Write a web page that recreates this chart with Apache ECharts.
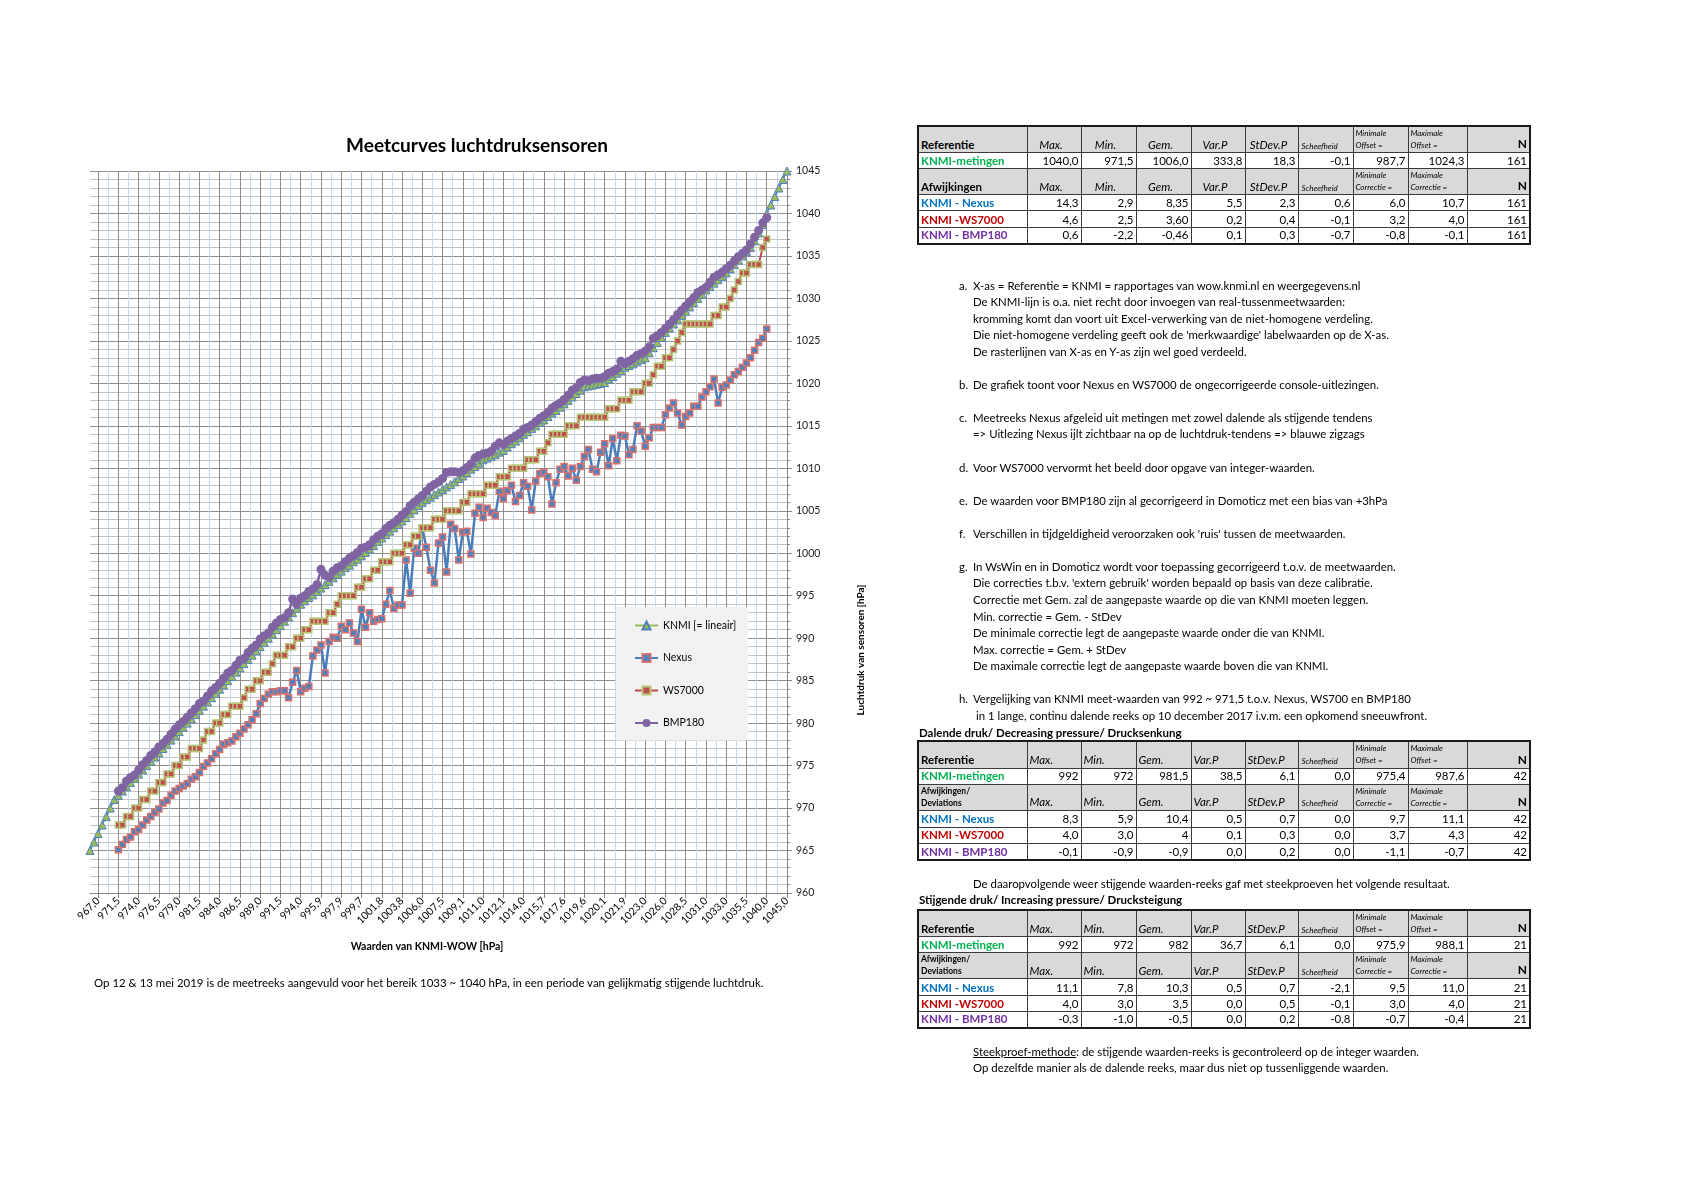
<!DOCTYPE html>
<html><head><meta charset="utf-8">
<script src="https://cdn.jsdelivr.net/npm/echarts/dist/echarts.min.js"></script>
<style>
html,body{margin:0;padding:0;background:#fff;}
#chart{position:absolute;left:0;top:0;width:1684px;height:1190px;}
.txt{position:absolute;font-family:Lato,'Noto Sans',sans-serif;color:#000;white-space:pre;}
table.t{position:absolute;left:917px;border-collapse:collapse;table-layout:fixed;font-family:Lato,sans-serif;font-size:11px;border:2px solid #1a1a1a;}
table.t td{border:1px solid #3a3a3a;padding:0 2px 1px 2px;overflow:hidden;white-space:nowrap;text-align:right;vertical-align:bottom;line-height:1.15;}
table.t tr.h td{background:#d9d9d9;}
table.t td.lab{text-align:left;font-weight:bold;font-size:11.5px;}
table.t td.lab2{text-align:left;font-weight:bold;font-size:8.5px;line-height:12px;}
table.t td.hc{font-style:italic;font-size:11.5px;}
table.t td.sk{font-style:italic;font-size:8px;text-align:left;padding-left:3px;}
table.t td.mm{font-style:italic;font-size:8px;text-align:left;line-height:12px;vertical-align:top;}
table.t td.n{font-weight:bold;font-size:12px;}
table.t td.num{font-size:11.5px;}
</style>
</head><body>
<div id="chart"></div>
<div id="side"></div>
<script>
// ---------- chart data ----------
const tickLabels = ['967,0','971,5','974,0','976,5','979,0','981,5','984,0','986,5','989,0','991,5','994,0','995,9','997,9','999,7','1001,8','1003,8','1006,0','1007,5','1009,1','1011,0','1012,1','1014,0','1015,7','1017,6','1019,6','1020,1','1021,9','1023,0','1026,0','1028,5','1031,0','1033,0','1035,5','1040,0','1045,0'];

const knmi = [965,966,967,968,969,970,971,
 971.5,972,972.5,973,973.5,974,974.5,975,975.5,976,976.5,977,977.5,978,978.5,979,979.5,980,980.5,981,981.5,982,982.5,983,983.5,984,984.5,985,985.5,986,986.5,987,987.5,988,988.5,989,989.5,990,990.5,991,991.5,992,
 992.5,993,993.5,994,
 994.4,994.8,995.1,995.5,995.9, 996.3,996.7,997.1,997.5,997.9, 998.3,998.6,999.0,999.3,999.7,
 1000.1,1000.5,1000.9,1001.4,1001.8, 1002.2,1002.6,1003.0,1003.4,1003.8, 1004.2,1004.7,1005.1,1005.6,1006.0,
 1006.3,1006.6,1006.9,1007.2,1007.5, 1007.8,1008.1,1008.4,1008.8,1009.1, 1009.5,1009.9,1010.2,1010.6,1011.0,
 1011.2,1011.4,1011.6,1011.9,1012.1, 1012.5,1012.9,1013.2,1013.6,1014.0, 1014.3,1014.7,1015.0,1015.4,1015.7,
 1016.1,1016.5,1016.8,1017.2,1017.6, 1018.0,1018.4,1018.8,1019.2,1019.6, 1019.7,1019.8,1019.9,1020.0,1020.1,
 1020.5,1020.8,1021.2,1021.5,1021.9, 1022.1,1022.3,1022.6,1022.8,1023.0, 1023.6,1024.2,1024.8,1025.4,1026.0,
 1026.5,1027.0,1027.5,1028.0,1028.5, 1029.0,1029.5,1030.0,1030.5,1031.0, 1031.4,1031.8,1032.2,1032.6,1033.0,
 1033.5,1034.0,1034.5,1035.0,1035.5, 1036.0,1036.8,1037.7,1038.7,1040.0, 1041,1042,1043,1044,1045];

// sensor series: 161 readings, from category 971,5 up to 1040,0
const nexus = [965.1,965.7,966.3,966.6,967.2,967.5,968.0,968.6,969.0,969.5,969.9,970.6,970.9,971.5,972.0,972.3,972.6,972.9,973.4,973.7,974.2,974.9,975.3,975.8,976.4,976.9,977.5,977.7,977.9,978.4,978.8,979.3,979.8,980.4,981.1,982.3,982.9,983.4,983.7,983.7,983.8,983.8,
 983.0,984.8,986.2,983.7,984.1,984.3,987.9,988.6,989.2,985.9,989.6,990.1,990.0,991.4,991.0,991.8,990.6,989.6,993.4,991.3,993.0,992.0,992.2,992.3,994.0,995.6,993.5,993.9,993.9,999.2,995.3,1000.6,1000.0,1003.0,1000.7,998.0,996.5,1001.2,1001.9,997.8,1003.4,1002.9,999.2,1002.5,1002.6,999.9,1004.7,1005.4,1004.2,1005.3,1004.8,1004.4,1007.3,
 1006.4,1007.4,1008.0,1006.1,1006.8,1008.3,1007.9,1005.1,1008.5,1009.4,1009.5,1009.0,1005.8,1008.3,1009.9,1010.2,1009.1,1010.0,1008.6,1010.2,1011.4,1012.2,1009.9,1009.6,1011.9,1012.9,1010.3,1013.5,1010.9,1013.9,1013.8,1011.6,1012.2,1015.0,1014.4,1012.6,1013.6,1014.8,1014.8,1014.8,
 1016.3,1017.1,1017.7,1016.5,1015.1,1016.1,1016.5,1017.3,1017.3,1018.4,1019.0,1019.6,1020.5,1017.7,1019.5,1019.8,1020.4,1021.0,1021.4,1021.9,1022.4,1023.0,1023.9,1024.8,1025.3,1026.4];

const ws7000 = [968,968,969,969,970,970,971,971,972,972,973,973,974,974,975,975,976,976,977,977,977,978,979,979,980,980,981,981,982,982,982,983,984,984,985,985,986,986,987,988,988,988,
 989,989,990,990,991,991,992,992,992,992,993,993,994,995,995,995,995,996,996,997,997,998,998,999,999,999,1000,1000,1000,1001,1001,1002,1002,1003,1003,1003,1004,1004,1004,1005,1005,1005,1005,1006,1006,1007,1007,1007,1007,1008,1008,1008,1009,
 1009,1009,1010,1010,1010,1010,1011,1011,1011,1012,1012,1013,1014,1014,1014,1014,1015,1015,1015,1016,1016,1016,1016,1016,1016,1016,1017,1017,1017,1018,1018,1018,1019,1019,1019,1020,1020,1021,1022,1022,
 1023,1023,1024,1025,1026,1027,1027,1027,1027,1027,1027,1027,1028,1028,1029,1029,1030,1031,1032,1033,1033,1034,1034,1034,1036,1037];

const bmp180 = [972.0,972.4,973.2,973.6,973.9,974.5,975.1,975.6,976.2,976.6,977.2,977.6,978.1,978.7,979.3,979.8,980.2,980.7,981.2,981.7,982.3,982.6,983.2,983.8,984.2,984.7,985.3,985.9,986.2,986.8,987.4,987.6,988.3,988.8,989.2,989.9,990.3,990.6,991.3,991.8,992.2,992.4,
 993.0,994.6,994.0,994.7,995.0,995.5,995.8,996.3,998.1,997.4,997.2,997.9,998.3,998.5,999.0,999.4,999.7,1000.1,1000.6,1000.7,1001.0,1001.6,1002.0,1002.3,1002.9,1003.3,1003.6,1004.0,1004.5,1004.9,1005.6,1006.0,1006.4,1006.8,1007.3,1007.8,1008.1,1008.4,1008.8,1009.5,1009.6,1009.6,1009.5,1009.7,1010.1,1010.5,1011.2,1011.5,1011.7,1011.8,1012.0,1012.6,1013.0,
 1012.8,1013.2,1013.5,1013.8,1014.1,1014.6,1014.8,1015.1,1015.5,1015.9,1016.2,1016.6,1017.1,1017.4,1017.7,1018.1,1018.6,1019.2,1019.5,1020.1,1020.4,1020.3,1020.5,1020.6,1020.6,1020.8,1021.2,1021.4,1021.7,1022.6,1022.3,1022.6,1022.9,1023.3,1023.5,1023.8,1024.3,1025.3,1025.6,1026.0,
 1026.5,1027.0,1027.5,1028.1,1028.6,1029.1,1029.6,1030.1,1030.7,1031.0,1031.3,1031.9,1032.5,1032.8,1033.1,1033.5,1033.9,1034.4,1034.9,1035.3,1035.7,1036.4,1037.2,1038.0,1038.9,1039.5];

// ---------- table data ----------
const hdrCols = ['Max.','Min.','Gem.','Var.P','StDev.P'];
const devNames = ['KNMI - Nexus','KNMI -WS7000','KNMI - BMP180'];
const devColors = ['#0070c0','#c00000','#7030a0'];
const t1Ref = ['1040,0','971,5','1006,0','333,8','18,3','-0,1','987,7','1024,3','161'];
const t1Dev = [['14,3','2,9','8,35','5,5','2,3','0,6','6,0','10,7','161'],
               ['4,6','2,5','3,60','0,2','0,4','-0,1','3,2','4,0','161'],
               ['0,6','-2,2','-0,46','0,1','0,3','-0,7','-0,8','-0,1','161']];
const t2Ref = ['992','972','981,5','38,5','6,1','0,0','975,4','987,6','42'];
const t2Dev = [['8,3','5,9','10,4','0,5','0,7','0,0','9,7','11,1','42'],
               ['4,0','3,0','4','0,1','0,3','0,0','3,7','4,3','42'],
               ['-0,1','-0,9','-0,9','0,0','0,2','0,0','-1,1','-0,7','42']];
const t3Ref = ['992','972','982','36,7','6,1','0,0','975,9','988,1','21'];
const t3Dev = [['11,1','7,8','10,3','0,5','0,7','-2,1','9,5','11,0','21'],
               ['4,0','3,0','3,5','0,0','0,5','-0,1','3,0','4,0','21'],
               ['-0,3','-1,0','-0,5','0,0','0,2','-0,8','-0,7','-0,4','21']];

const notes = [
 ['a.','X-as = Referentie = KNMI = rapportages van wow.knmi.nl en weergegevens.nl'],
 ['','De KNMI-lijn is o.a. niet recht door invoegen van real-tussenmeetwaarden:'],
 ['','kromming komt dan voort uit Excel-verwerking van de niet-homogene verdeling.'],
 ['','Die niet-homogene verdeling geeft ook de \'merkwaardige\' labelwaarden op de X-as.'],
 ['','De rasterlijnen van X-as en Y-as zijn wel goed verdeeld.'],
 ['',''],
 ['b.','De grafiek toont voor Nexus en WS7000 de ongecorrigeerde console-uitlezingen.'],
 ['',''],
 ['c.','Meetreeks Nexus afgeleid uit metingen met zowel dalende als stijgende tendens'],
 ['','=> Uitlezing Nexus ijlt zichtbaar na op de luchtdruk-tendens => blauwe zigzags'],
 ['',''],
 ['d.','Voor WS7000 vervormt het beeld door opgave van integer-waarden.'],
 ['',''],
 ['e.','De waarden voor BMP180 zijn al gecorrigeerd in Domoticz met een bias van +3hPa'],
 ['',''],
 ['f.','Verschillen in tijdgeldigheid veroorzaken ook \'ruis\' tussen de meetwaarden.'],
 ['',''],
 ['g.','In WsWin en in Domoticz wordt voor toepassing gecorrigeerd t.o.v. de meetwaarden.'],
 ['','Die correcties t.b.v. \'extern gebruik\' worden bepaald op basis van deze calibratie.'],
 ['','Correctie met Gem. zal de aangepaste waarde op die van KNMI moeten leggen.'],
 ['','Min. correctie = Gem. - StDev'],
 ['','De minimale correctie legt de aangepaste waarde onder die van KNMI.'],
 ['','Max. correctie = Gem. + StDev'],
 ['','De maximale correctie legt de aangepaste waarde boven die van KNMI.'],
 ['',''],
 ['h.','Vergelijking van KNMI meet-waarden van 992 ~ 971,5 t.o.v. Nexus, WS700 en BMP180'],
 ['',' in 1 lange, continu dalende reeks op 10 december 2017 i.v.m. een opkomend sneeuwfront.']
];

// ---------- chart ----------
const chart = echarts.init(document.getElementById('chart'), null, {renderer:'canvas'});
const cats = knmi.map(v => v.toFixed(1).replace('.', ','));
const halfCats = Array.from({length: 2 * (knmi.length - 1) + 1}, (_, i) => String(i));
const START = 7, END_PAD = knmi.length - START - nexus.length;
const pad = arr => Array(START).fill(null).concat(arr, Array(END_PAD).fill(null));
const isMajor = i => i % 5 === 2;
const FONT = 'Lato, "Noto Sans", sans-serif';

const option = {
  animation: false,
  textStyle: {fontFamily: FONT},
  grid: {left: 90, top: 171, width: 697, height: 722, containLabel: false},
  legend: {
    orient: 'vertical', left: 616, top: 607,
    padding: [13, 12, 12, 18], itemGap: 21.5, itemWidth: 23, itemHeight: 10,
    backgroundColor: '#f2f2f2',
    textStyle: {fontSize: 10.5, color: '#000', fontFamily: FONT},
    data: [
      {name: 'KNMI [= lineair]', lineStyle: {color: '#9bbb59'}},
      'Nexus', 'WS7000', 'BMP180'
    ]
  },
  xAxis: [
    {
      type: 'category', data: cats, boundaryGap: false,
      axisLine: {lineStyle: {color: '#868686'}},
      axisTick: {interval: i => isMajor(i), length: 5, lineStyle: {color: '#868686'}},
      axisLabel: {interval: i => isMajor(i), rotate: 45, margin: 6, fontSize: 10.5, color: '#000',
                  fontFamily: FONT, formatter: (v, i) => tickLabels[(i - 2) / 5]},
      splitLine: {show: true, interval: i => isMajor(i), lineStyle: {color: '#8e8e8e', width: 1}}
    },
    {
      type: 'category', data: halfCats, boundaryGap: false, position: 'bottom',
      axisLine: {show: false}, axisTick: {show: false}, axisLabel: {show: false},
      splitLine: {show: true, interval: i => i % 10 === 9, lineStyle: {color: '#c6d9f1', width: 1}}
    }
  ],
  yAxis: {
    type: 'value', position: 'right', min: 960, max: 1045, interval: 5,
    axisLine: {show: true, lineStyle: {color: '#868686'}},
    axisTick: {show: true, length: 5, lineStyle: {color: '#868686'}},
    minorTick: {show: true, splitNumber: 5, length: 3, lineStyle: {color: '#868686'}},
    axisLabel: {fontSize: 10.5, color: '#222', margin: 9, fontFamily: FONT, formatter: v => String(v)},
    splitLine: {show: true, lineStyle: {color: '#8e8e8e', width: 1}},
    minorSplitLine: {show: true, lineStyle: {color: '#c4c4c4', width: 1}}
  },
  series: [
    {name: 'KNMI [= lineair]', type: 'line', data: knmi, symbol: 'triangle', symbolSize: 8,
     showAllSymbol: true, lineStyle: {color: '#4f81bd', width: 1.5},
     itemStyle: {color: '#9bbb59', borderColor: '#4f81bd', borderWidth: 1}},
    {name: 'Nexus', type: 'line', data: pad(nexus), symbol: 'rect', symbolSize: 6,
     showAllSymbol: true, lineStyle: {color: '#4a7ebb', width: 2.5},
     itemStyle: {color: '#4f81bd', borderColor: '#d9716e', borderWidth: 1.5}},
    {name: 'WS7000', type: 'line', data: pad(ws7000), symbol: 'rect', symbolSize: 6,
     showAllSymbol: true, lineStyle: {color: '#be4b48', width: 2},
     itemStyle: {color: '#c0504d', borderColor: '#b5c77a', borderWidth: 1.5}},
    {name: 'BMP180', type: 'line', data: pad(bmp180), symbol: 'circle', symbolSize: 9,
     showAllSymbol: true, lineStyle: {color: '#7d60a0', width: 2.5},
     itemStyle: {color: '#8064a2', borderColor: '#8064a2', borderWidth: 0}}
  ],
  graphic: [
    {type: 'text', x: 477, y: 146, style: {text: 'Meetcurves luchtdruksensoren', font: 'bold 19px ' + FONT,
      fill: '#000', textAlign: 'center', align: 'center', textVerticalAlign: 'middle', verticalAlign: 'middle'}},
    {type: 'text', x: 427, y: 947, style: {text: 'Waarden van KNMI-WOW [hPa]', font: 'bold 10.5px ' + FONT,
      fill: '#000', textAlign: 'center', align: 'center', textVerticalAlign: 'middle', verticalAlign: 'middle'}},
    {type: 'text', x: 861, y: 650, rotation: Math.PI / 2, style: {text: 'Luchtdruk van sensoren [hPa]', font: 'bold 10px ' + FONT,
      fill: '#000', textAlign: 'center', align: 'center', textVerticalAlign: 'middle', verticalAlign: 'middle'}}
  ]
};
chart.setOption(option);

// ---------- side texts & tables ----------
const side = document.getElementById('side');
function addText(text, left, top, css) {
  const d = document.createElement('div');
  d.className = 'txt';
  d.style.left = left + 'px'; d.style.top = top + 'px';
  d.style.cssText += css || '';
  d.innerHTML = text;
  side.appendChild(d);
}
addText('Op 12 &amp; 13 mei 2019 is de meetreeks aangevuld voor het bereik 1033 ~ 1040 hPa, in een periode van gelijkmatig stijgende luchtdruk.', 94, 976, 'font-size:11.45px;');

const LH = 16.55;
notes.forEach((n, k) => {
  if (!n[0] && !n[1]) return;
  const top = 277.5 + k * LH;
  if (n[0]) addText(n[0], 959, top, 'font-size:11.4px;line-height:16px;');
  addText(n[1], 973, top, 'font-size:11.4px;line-height:16px;');
});
addText('Dalende druk/ Decreasing pressure/ Drucksenkung', 919, 725, 'font-size:11.5px;font-weight:bold;line-height:16px;');
addText('De daaropvolgende weer stijgende waarden-reeks gaf met steekproeven het volgende resultaat.', 973, 876, 'font-size:11.4px;line-height:16px;');
addText('Stijgende druk/ Increasing pressure/ Drucksteigung', 919, 892, 'font-size:11.5px;font-weight:bold;line-height:16px;');
addText('<u>Steekproef-methode</u>: de stijgende waarden-reeks is gecontroleerd op de integer waarden.', 973, 1043.5, 'font-size:11.4px;line-height:16px;');
addText('Op dezelfde manier als de dalende reeks, maar dus niet op tussenliggende waarden.', 973, 1060, 'font-size:11.4px;line-height:16px;');

const colW = [109, 54, 55, 55, 54, 53, 55, 55, 59, 63];
function headerRow(label, labClass, word, align, h) {
  let s = `<tr class="h" style="height:${h}px"><td class="${labClass}">${label}</td>`;
  hdrCols.forEach(c => { s += `<td class="hc" style="text-align:${align};${align==='left'?'padding-left:2px;':'padding-right:8px;'}">${c}</td>`; });
  s += `<td class="sk">Scheefheid</td>`;
  s += `<td class="mm"><div>Minimale</div><div>${word}</div></td>`;
  s += `<td class="mm"><div>Maximale</div><div>${word}</div></td>`;
  s += `<td class="n">N</td></tr>`;
  return s;
}
function dataRow(label, color, vals, h) {
  let s = `<tr style="height:${h}px"><td class="lab" style="color:${color}">${label}</td>`;
  vals.forEach(v => { s += `<td class="num">${v}</td>`; });
  return s + '</tr>';
}
function makeTable(top, heights, ref, dev, align, devLabel, devClass) {
  const t = document.createElement('table');
  t.className = 't';
  t.style.top = top + 'px';
  let s = '<colgroup>' + colW.map(w => `<col style="width:${w}px">`).join('') + '</colgroup>';
  s += headerRow('Referentie', 'lab', 'Offset =', align, heights[0]);
  s += dataRow('KNMI-metingen', '#00b050', ref, heights[1]);
  s += headerRow(devLabel, devClass, 'Correctie =', align, heights[2]);
  dev.forEach((r, k) => { s += dataRow(devNames[k], devColors[k], r, heights[3 + k]); });
  t.innerHTML = s;
  side.appendChild(t);
}
makeTable(124.5, [27, 16, 26, 16, 17, 16], t1Ref, t1Dev, 'center', 'Afwijkingen', 'lab');
makeTable(740, [27, 16, 25, 17, 16, 17], t2Ref, t2Dev, 'left', 'Afwijkingen/<br>Deviations', 'lab2');
makeTable(908.5, [27, 16, 25, 17, 16, 16], t3Ref, t3Dev, 'left', 'Afwijkingen/<br>Deviations', 'lab2');
</script>
</body></html>
